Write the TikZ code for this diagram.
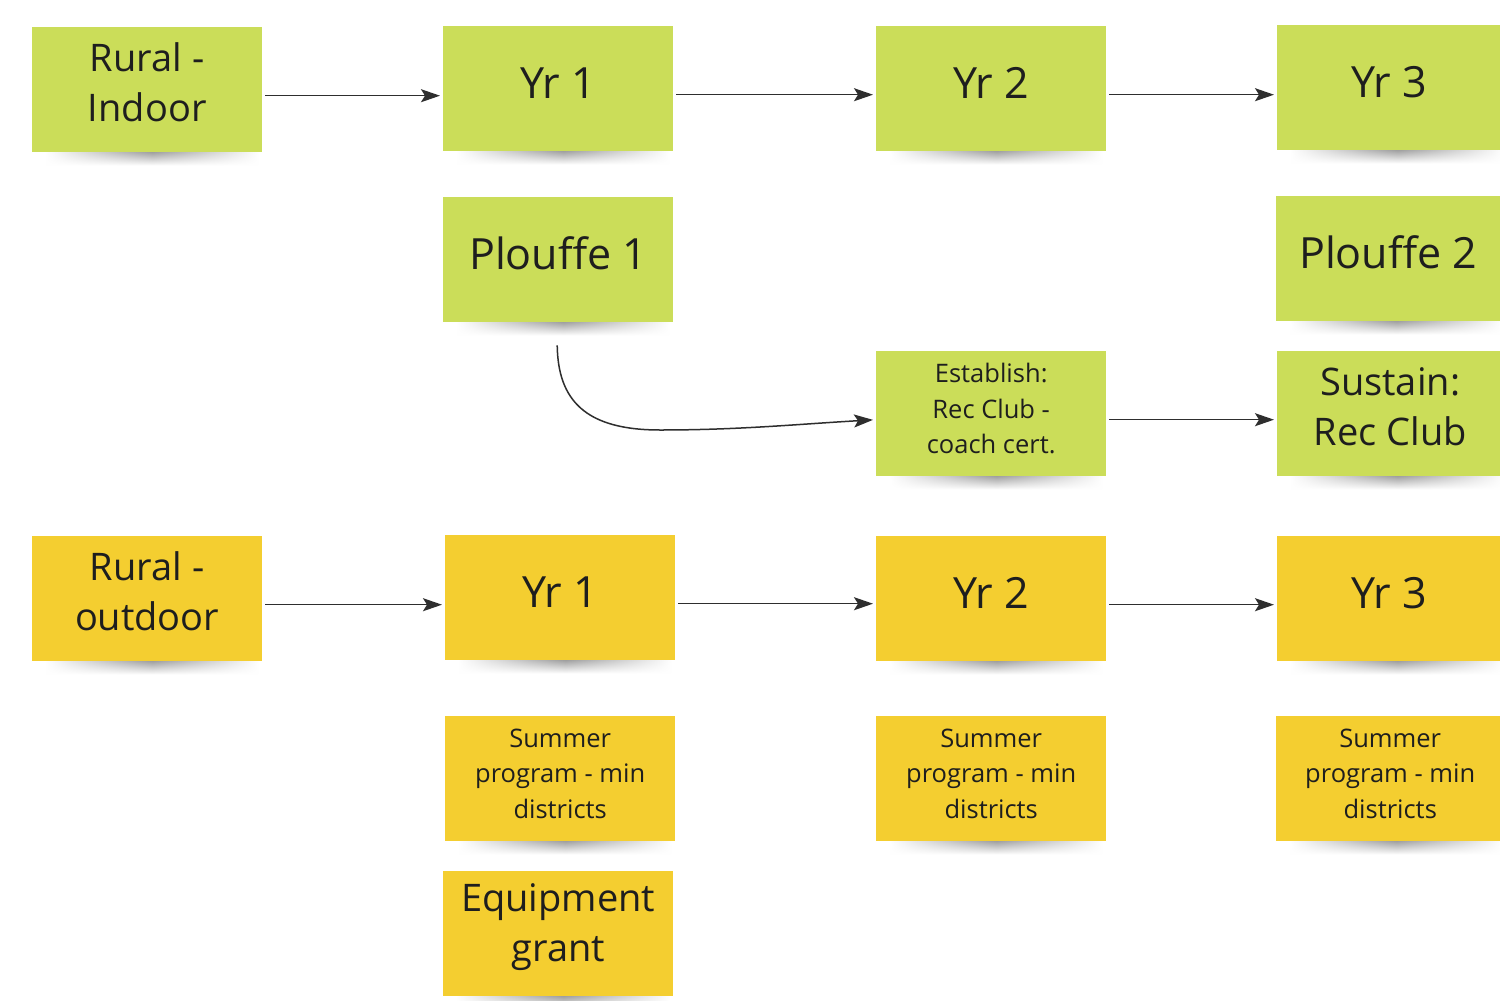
\documentclass[tikz,border=0pt]{standalone}
\usepackage{fontspec}
\setmainfont{Open Sans}
\usetikzlibrary{arrows.meta,backgrounds,fadings}
\definecolor{stgreen}{HTML}{CBDD59}
\definecolor{styellow}{HTML}{F4CE30}
\definecolor{txtc}{HTML}{1E1E1E}
\definecolor{arrc}{HTML}{2E2E2E}
\tikzfading[name=sidefade, left color=transparent!100, right color=transparent!100, middle color=transparent!0]
\tikzset{
  note/.style={draw=none, minimum width=230pt, minimum height=125pt, inner sep=0pt, anchor=north west},
  gnote/.style={note, fill=stgreen},
  ynote/.style={note, fill=styellow},
  bigtxt/.style={text=txtc, font=\fontsize{38}{50}\selectfont, align=center, inner sep=0pt},
  yrtxt/.style={text=txtc, font=\fontsize{43}{50}\selectfont, align=center, inner sep=0pt},
  smalltxt/.style={text=txtc, font=\fontsize{25.5}{35.5}\selectfont, align=center, inner sep=0pt},
  tipstyle/.style={-{Stealth[length=19pt,width=13pt,inset=4pt]}},
  flow/.style={draw=arrc, line width=1.5pt, shorten <=3pt, shorten >=3pt, tipstyle},
  shadowfill/.style={top color=black!70, bottom color=white, path fading=sidefade, opacity=0.6},
}
\newcommand\noteshadow[1]{%
  \shade[shadowfill] ([xshift=14pt,yshift=2pt]#1.south west) rectangle ([xshift=-4pt,yshift=-13pt]#1.south east);
}
\begin{document}
\begin{tikzpicture}[x=1pt,y=-1pt]
\useasboundingbox (0,0) rectangle (1500,1001);
\clip (0,0) rectangle (1500,1001);

% green row
\node[gnote] (ri) at (32,27) {};
\node[gnote] (gy1) at (443,26) {};
\node[gnote] (gy2) at (876,26) {};
\node[gnote] (gy3) at (1277,25) {};
\node[gnote] (pl1) at (443,197) {};
\node[gnote] (pl2) at (1276,196) {};
\node[gnote] (est) at (876,351) {};
\node[gnote] (sus) at (1277,351) {};
% yellow row
\node[ynote] (ro) at (32,536) {};
\node[ynote] (yy1) at (445,535) {};
\node[ynote] (yy2) at (876,536) {};
\node[ynote] (yy3) at (1277,536) {};
\node[ynote] (sm1) at (445,716) {};
\node[ynote] (sm2) at (876,716) {};
\node[ynote] (sm3) at (1276,716) {};
\node[ynote] (eq) at (443,871) {};

\begin{pgfonlayer}{background}
\fill[white] (0,0) rectangle (1500,1001);
\foreach \n in {ri,gy1,gy2,gy3,pl1,pl2,est,sus,ro,yy1,yy2,yy3,sm1,sm2,sm3,eq}{\noteshadow{\n}}
\end{pgfonlayer}

% texts
\node[bigtxt] (tri) at ([yshift=7pt]ri.center) {Rural -\\Indoor};
\node[yrtxt] (tgy1) at ([yshift=6pt]gy1.center) {Yr 1};
\node[yrtxt] (tgy2) at ([yshift=6pt]gy2.center) {Yr 2};
\node[yrtxt] (tgy3) at ([yshift=6pt,xshift=-3pt]gy3.center) {Yr 3};
\node[yrtxt] (tpl1) at ([yshift=6pt]pl1.center) {Plouffe 1};
\node[yrtxt] (tpl2) at ([yshift=6pt,xshift=-3pt]pl2.center) {Plouffe 2};
\node[smalltxt] (test) at ([yshift=5pt]est.center) {Establish:\\Rec Club -\\coach cert.};
\node[bigtxt] (tsus) at ([yshift=7pt,xshift=-2pt]sus.center) {Sustain:\\Rec Club};
\node[bigtxt] (tro) at ([yshift=7pt]ro.center) {Rural -\\outdoor};
\node[yrtxt] (tyy1) at ([yshift=6pt]yy1.center) {Yr 1};
\node[yrtxt] (tyy2) at ([yshift=6pt]yy2.center) {Yr 2};
\node[yrtxt] (tyy3) at ([yshift=6pt,xshift=-3pt]yy3.center) {Yr 3};
\node[smalltxt] (tsm1) at ([yshift=5pt]sm1.center) {Summer\\program - min\\districts};
\node[smalltxt] (tsm2) at ([yshift=5pt]sm2.center) {Summer\\program - min\\districts};
\node[smalltxt] (tsm3) at ([yshift=5pt,xshift=-1pt]sm3.center) {Summer\\program - min\\districts};
\node[bigtxt] (teq) at ([yshift=7pt]eq.center) {Equipment\\grant};

% connectors
\draw[flow] ([yshift=-6pt]ri.east) -- ([yshift=-6pt]ri.east -| gy1.west);
\draw[flow] ([yshift=-6pt]gy1.east) -- ([yshift=-6pt]gy1.east -| gy2.west);
\draw[flow] ([yshift=-6pt]gy2.east) -- ([yshift=-6pt]gy2.east -| gy3.west);
\draw[flow] ([yshift=-6pt]est.east) -- ([yshift=-6pt]est.east -| sus.west);
\draw[flow] ([yshift=-6pt]ro.east) -- ([yshift=-6pt]ro.east -| yy1.west);
\draw[flow] ([yshift=-6pt]yy1.east) -- ([yshift=-6pt]yy1.east -| yy2.west);
\draw[flow] ([yshift=-6pt]yy2.east) -- ([yshift=-6pt]yy2.east -| yy3.west);
\coordinate (cstart) at ([xshift=-1pt,yshift=-23pt]pl1.south);
\coordinate (cmid) at (660,430);
\draw[draw=arrc, line width=1.5pt, shorten >=3pt, tipstyle]
  (cstart) .. controls (558,400) and (585,430) .. (cmid)
  .. controls (740,430) and (800,424) .. ([yshift=-6pt]est.west);
\end{tikzpicture}
\end{document}
